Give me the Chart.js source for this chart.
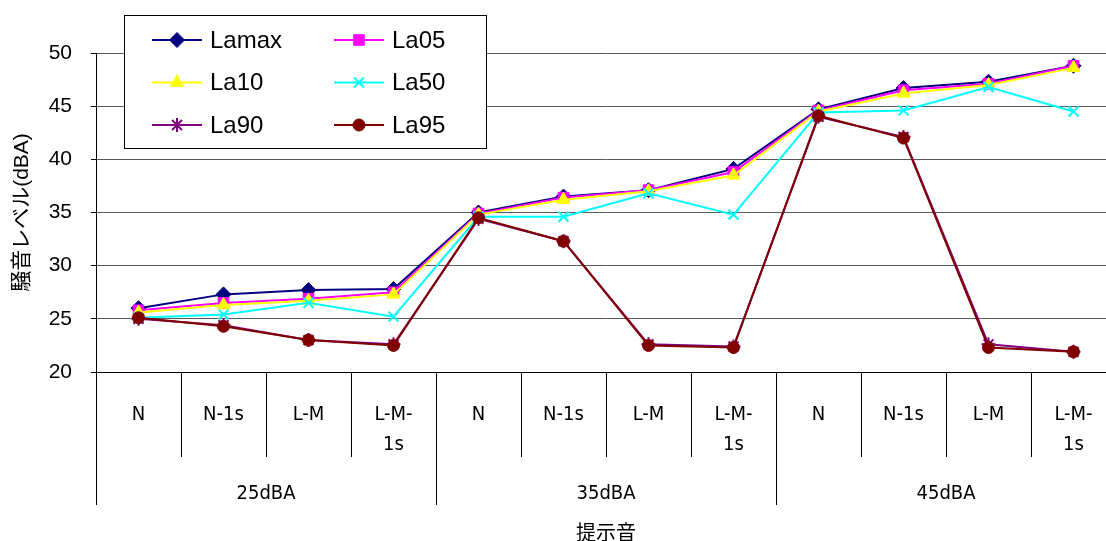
<!DOCTYPE html>
<html>
<head>
<meta charset="utf-8">
<script src="https://cdn.jsdelivr.net/npm/chart.js"></script>
<style>
  html, body { margin: 0; padding: 0; background: #fff; overflow: hidden; }
  #wrap { position: absolute; left: 0; top: 0; width: 1125px; height: 541px; }
</style>
</head>
<body>
<div id="wrap"><canvas id="c" width="1125" height="541"></canvas></div>
<script>
// Stimulus sounds (inner level) and presentation levels (outer level)
const stimuli = ['N', 'N-1s', 'L-M', ['L-M-', '1s'],
                 'N', 'N-1s', 'L-M', ['L-M-', '1s'],
                 'N', 'N-1s', 'L-M', ['L-M-', '1s']];
const levels = ['25dBA', '35dBA', '45dBA'];

// Measured noise levels, dBA
const lamax = [26.0, 27.3, 27.7, 27.8, 35.0, 36.5, 37.1, 39.1, 44.7, 46.7, 47.3, 48.8];
const la05  = [25.8, 26.5, 26.9, 27.5, 34.9, 36.4, 37.1, 38.8, 44.6, 46.5, 47.1, 48.8];
const la10  = [25.6, 26.3, 26.7, 27.3, 34.8, 36.2, 37.0, 38.5, 44.5, 46.2, 47.0, 48.6];
const la50  = [25.1, 25.4, 26.5, 25.2, 34.6, 34.6, 36.8, 34.8, 44.4, 44.6, 46.8, 44.5];
const la90  = [25.0, 24.4, 23.0, 22.6, 34.4, 32.3, 22.6, 22.4, 44.0, 42.1, 22.6, 21.9];
const la95  = [25.1, 24.3, 23.0, 22.5, 34.5, 32.3, 22.5, 22.3, 44.1, 42.0, 22.3, 21.9];

const yTicks = [20, 25, 30, 35, 40, 45, 50];

const latin = '"Liberation Sans", Arial, "Noto Sans CJK JP", sans-serif';
const narrow = '"Liberation Sans Narrow", "DejaVu Sans Condensed", "Noto Sans CJK JP", sans-serif';

function series(label, data, color, style, radius, fill, bw, order) {
  return {
    label, data, order,
    borderColor: color, backgroundColor: color,
    borderWidth: 2,
    pointStyle: style, pointRadius: radius, pointHoverRadius: radius,
    pointBackgroundColor: fill, pointBorderColor: color, pointBorderWidth: bw,
    tension: 0, fill: false
  };
}

// Boxed two-column legend in the upper-left of the plot
const boxedLegend = {
  id: 'boxedLegend',
  afterDraw(chart) {
    const ctx = chart.ctx;
    ctx.save();
    ctx.fillStyle = '#fff';
    ctx.strokeStyle = '#000';
    ctx.lineWidth = 1;
    ctx.fillRect(124.5, 15.5, 362, 133);
    ctx.strokeRect(124.5, 15.5, 362, 133);
    chart.data.datasets.forEach((ds, i) => {
      const col = i % 2, row = Math.floor(i / 2);
      const x0 = 152 + col * 182;
      const y = 40 + row * 42.5;
      ctx.strokeStyle = ds.borderColor;
      ctx.lineWidth = 2;
      ctx.beginPath();
      ctx.moveTo(x0, y);
      ctx.lineTo(x0 + 50, y);
      ctx.stroke();
      ctx.fillStyle = ds.pointBackgroundColor;
      ctx.strokeStyle = ds.pointBorderColor;
      ctx.lineWidth = ds.pointBorderWidth;
      Chart.helpers.drawPoint(ctx, {
        pointStyle: ds.pointStyle, radius: ds.pointRadius,
        borderWidth: ds.pointBorderWidth, rotation: 0
      }, x0 + 25, y);
      ctx.fillStyle = '#000';
      ctx.font = '24px ' + latin;
      ctx.textAlign = 'left';
      ctx.textBaseline = 'middle';
      ctx.fillText(ds.label, x0 + 58, y + 1);
    });
    ctx.restore();
  }
};

new Chart(document.getElementById('c'), {
  type: 'line',
  data: {
    labels: stimuli,
    datasets: [
      series('Lamax', lamax, '#000080', 'rectRot', 7.5, '#000080', 1, 6),
      series('La05',  la05,  '#FF00FF', 'rect',    7.5, '#FF00FF', 1, 5),
      series('La10',  la10,  '#FFFF00', 'triangle', 7.5, '#FFFF00', 1, 4),
      series('La50',  la50,  '#00FFFF', 'crossRot', 7, '#00FFFF', 2, 3),
      series('La90',  la90,  '#800080', 'star',    7, '#800080', 2, 2),
      series('La95',  la95,  '#800000', 'circle',  6, '#800000', 1, 1)
    ]
  },
  options: {
    responsive: false,
    animation: false,
    devicePixelRatio: 1,
    layout: { padding: { top: 53, right: 4, bottom: 0, left: 0 } },
    plugins: {
      legend: { display: false },
      tooltip: { enabled: false }
    },
    scales: {
      y: {
        min: 20, max: 50,
        afterBuildTicks: (s) => { s.ticks = yTicks.map(v => ({ value: v })); },
        afterFit: (s) => { s.width = 96; },
        grid: { color: '#595959', lineWidth: 1, tickLength: 5, tickColor: '#000' },
        border: { color: '#000', width: 1 },
        ticks: { color: '#000', padding: 19, font: { family: latin, size: 21 } },
        title: {
          display: true, text: '騒音レベル(dBA)', color: '#000',
          font: { family: latin, size: 21 }, padding: { top: 10, bottom: 0 }
        }
      },
      x: {
        type: 'category',
        position: 'bottom',
        offset: true,
        afterFit: (s) => { s.height = 85; },
        grid: { offset: true, drawOnChartArea: false, tickLength: 85, color: '#000', lineWidth: 1 },
        border: { color: '#000', width: 1 },
        ticks: {
          color: '#000', padding: -57, maxRotation: 0, autoSkip: false,
          font: { family: narrow, size: 20, lineHeight: 1.5 }
        }
      },
      x2: {
        type: 'category',
        position: 'bottom',
        labels: levels,
        offset: true,
        afterFit: (s) => { s.height = 84; },
        grid: { offset: true, drawOnChartArea: false, tickLength: 48, color: '#000', lineWidth: 1 },
        border: { display: false },
        ticks: {
          color: '#000', padding: -26, maxRotation: 0, autoSkip: false,
          font: { family: narrow, size: 20, lineHeight: 1.5 }
        },
        title: {
          display: true, text: '提示音', color: '#000',
          font: { family: narrow, size: 20, lineHeight: 1 }, padding: { top: 0, bottom: -4 }
        }
      }
    }
  },
  plugins: [boxedLegend]
});
</script>
</body>
</html>
